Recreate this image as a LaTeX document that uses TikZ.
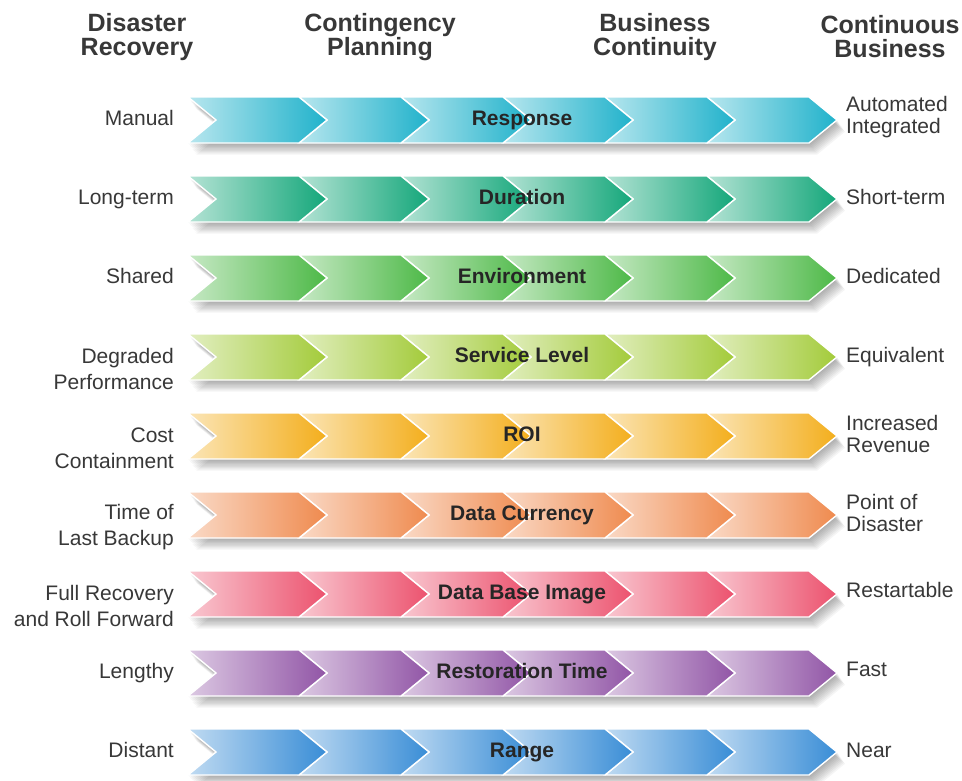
\documentclass[tikz,border=0pt]{standalone}
\usepackage{fontspec}
\setmainfont{Liberation Sans}
\definecolor{cA}{HTML}{20B2CB}
\definecolor{cB}{HTML}{14A77A}
\definecolor{cC}{HTML}{4DB947}
\definecolor{cD}{HTML}{A3CB3A}
\definecolor{cE}{HTML}{F3AE1C}
\definecolor{cF}{HTML}{EF8A4E}
\definecolor{cG}{HTML}{EC526E}
\definecolor{cH}{HTML}{9155A6}
\definecolor{cI}{HTML}{398DD6}
\definecolor{txt}{HTML}{383838}
\tikzset{
  header/.style={font=\bfseries\fontsize{25}{24}\selectfont, text=txt, align=center, inner sep=0pt},
  leftlab/.style={font=\fontsize{21}{26}\selectfont, text=txt, anchor=east, inner sep=0pt, text height=15.5pt, text depth=0pt},
  leftlabb/.style={font=\fontsize{21}{26}\selectfont, text=txt, align=right, anchor=east, inner sep=0pt},
  rightlab/.style={font=\fontsize{21}{22}\selectfont, text=txt, anchor=west, inner sep=0pt, text height=15.5pt, text depth=0pt},
  rightlabb/.style={font=\fontsize{21}{22}\selectfont, text=txt, align=left, anchor=west, inner sep=0pt},
  midlab/.style={font=\bfseries\fontsize{21}{24}\selectfont, text=black!85, inner sep=0pt, text height=15.5pt, text depth=0pt},
  chev/.style={draw=white, line width=1.4pt, line join=miter},
}
% #1 row index, #2 colour
\newcommand{\chevrow}[2]{%
  \pgfmathsetmacro{\yc}{120+79*#1}%
  \pgfmathsetmacro{\yt}{\yc-23}%
  \pgfmathsetmacro{\yb}{\yc+23}%
  % soft shadow
  \foreach \i in {1,...,9}{%
    \pgfmathsetmacro{\dx}{0.9*\i}%
    \pgfmathsetmacro{\dy}{1.3*\i}%
    \fill[black, opacity=0.04, shift={(\dx,\dy)}]
      (188,\yt) -- (809,\yt) -- (837,\yc) -- (809,\yb) -- (188,\yb) -- (216,\yc) -- cycle;
  }%
  \foreach \k in {5,4,3,2,1,0}{%
    \pgfmathsetmacro{\t}{327+102*\k}%
    \pgfmathsetmacro{\s}{\t-28}%
    \pgfmathsetmacro{\n}{ifthenelse(\k==0,216,225+102*\k)}%
    \pgfmathsetmacro{\L}{\n-28}%
    \shade[chev, left color=#2!32!white, right color=#2]
      (\L,\yt) -- (\s,\yt) -- (\t,\yc) -- (\s,\yb) -- (\L,\yb) -- (\n,\yc) -- cycle;
  }%
}
\begin{document}
\begin{tikzpicture}[x=1pt,y=-1pt]
\useasboundingbox (0,0) rectangle (962,780);
\fill[white] (0,0) rectangle (962,780);

\node[header] (h1) at (137,37) {Disaster\\Recovery};
\node[header] (h2) at (380,37) {Contingency\\Planning};
\node[header] (h3) at (655,37) {Business\\Continuity};
\node[header] (h4) at (890,37) {Continuous\\Business};

\chevrow{0}{cA}
\chevrow{1}{cB}
\chevrow{2}{cC}
\chevrow{3}{cD}
\chevrow{4}{cE}
\chevrow{5}{cF}
\chevrow{6}{cG}
\chevrow{7}{cH}
\chevrow{8}{cI}

% left labels
\node[leftlab] (l1) at (174,118) {Manual};
\node[leftlab] (l2) at (174,197) {Long-term};
\node[leftlab] (l3) at (174,276) {Shared};
\node[leftlabb] (l4) at (174,369) {Degraded\\Performance};
\node[leftlabb] (l5) at (174,448) {Cost\\Containment};
\node[leftlabb] (l6) at (174,527) {Time of\\Last Backup};
\node[leftlabb] (l7) at (174,606) {Full Recovery\\and Roll Forward};
\node[leftlab] (l8) at (174,671) {Lengthy};
\node[leftlab] (l9) at (174,750) {Distant};

% centre labels
\node[midlab] (m1) at (522,118) {Response};
\node[midlab] (m2) at (522,197) {Duration};
\node[midlab] (m3) at (522,276) {Environment};
\node[midlab] (m4) at (522,355) {Service Level};
\node[midlab] (m5) at (522,434) {ROI};
\node[midlab] (m6) at (522,513) {Data Currency};
\node[midlab] (m7) at (522,592) {Data Base Image};
\node[midlab] (m8) at (522,671) {Restoration Time};
\node[midlab] (m9) at (522,750) {Range};

% right labels
\node[rightlabb] (r1) at (846,117) {Automated\\Integrated};
\node[rightlab] (r2) at (846,197) {Short-term};
\node[rightlab] (r3) at (846,276) {Dedicated};
\node[rightlab] (r4) at (846,355) {Equivalent};
\node[rightlabb] (r5) at (846,434) {Increased\\Revenue};
\node[rightlabb] (r6) at (846,513) {Point of\\Disaster};
\node[rightlab] (r7) at (846,590) {Restartable};
\node[rightlab] (r8) at (846,669) {Fast};
\node[rightlab] (r9) at (846,750) {Near};
\end{tikzpicture}
\end{document}
